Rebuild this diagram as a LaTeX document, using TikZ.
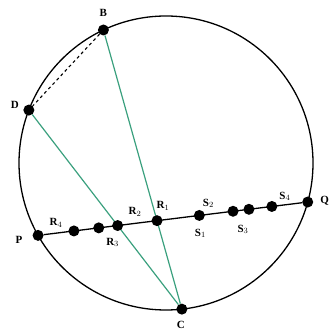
\documentclass[tikz,border=0pt]{standalone}
\usepackage{fontspec}
\setmainfont{Liberation Serif}
\usepackage{tikz}
\usetikzlibrary{calc, positioning}
\definecolor{chordgreen}{HTML}{3AA07E}

\begin{document}
\begin{tikzpicture}[
        x=1pt, y=1pt,
        dot/.style={circle, fill=black, minimum size=11pt, inner sep=0pt},
        lab/.style={font=\fontsize{11}{12}\selectfont\bfseries, inner sep=0pt},
        chord/.style={chordgreen, line width=1.2pt}
    ]
        \useasboundingbox (0,0) rectangle (329,334);
        \coordinate (O) at (166,171);
        \draw[line width=1.3pt] (O) circle (147);

        % points on the circle
        \node[dot] (B) at ($(O)+(115.2:147)$) {};
        \node[dot] (D) at ($(O)+(158.9:147)$) {};
        \node[dot] (P) at ($(O)+(209.5:147)$) {};
        \node[dot] (Q) at ($(O)+(-15.4:147)$) {};
        \node[dot] (C) at ($(O)+(-83.8:147)$) {};

        \draw[line width=1.1pt, dashed] (B) -- (D);
        \draw[chord] (B) -- (C);
        \draw[chord] (D) -- (C);
        \draw[line width=1.3pt] (P) -- (Q);

        % points on the chord PQ
        \node[dot] (R4) at ($(P)!0.133!(Q)$) {};
        \node[dot] (R5) at ($(P)!0.225!(Q)$) {};
        \node[dot] (R3) at (intersection of P--Q and D--C) {};
        \node[dot] (R1) at (intersection of P--Q and B--C) {};
        \node[dot] (S1) at ($(P)!0.598!(Q)$) {};
        \node[dot] (S2) at ($(P)!0.723!(Q)$) {};
        \node[dot] (S3) at ($(P)!0.782!(Q)$) {};
        \node[dot] (S4) at ($(P)!0.867!(Q)$) {};

        % labels
        \node[lab] (labB) at ($(B)+(0,17)$) {B};
        \node[lab] (labD) at ($(D)+(-14,5)$) {D};
        \node[lab] (labP) at ($(P)+(-19,-5)$) {P};
        \node[lab] (labQ) at ($(Q)+(17,1)$) {Q};
        \node[lab] (labC) at ($(C)+(-1,-16)$) {C};
        \node[lab] (labR4) at ($(R4)+(-18,8)$) {R$_4$};
        \node[lab] (labR3) at ($(R3)+(-5,-17)$) {R$_3$};
        \node[lab] (labR2) at ($(R1)+(-22,9)$) {R$_2$};
        \node[lab] (labR1) at ($(R1)+(6,15)$) {R$_1$};
        \node[lab] (labS1) at ($(S1)+(1,-18)$) {S$_1$};
        \node[lab] (labS2) at ($(S1)+(9,12)$) {S$_2$};
        \node[lab] (labS3) at ($(S2)+(10,-18)$) {S$_3$};
        \node[lab] (labS4) at ($(S4)+(13,10)$) {S$_4$};
    \end{tikzpicture}
\end{document}
